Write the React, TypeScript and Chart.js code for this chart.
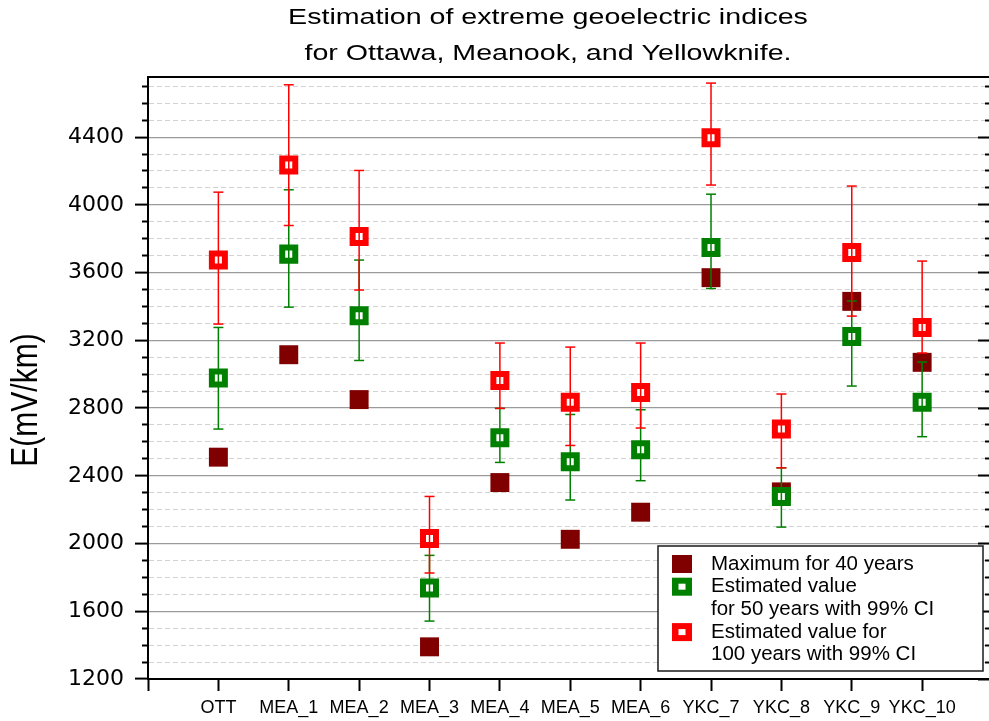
import React, { useEffect, useRef } from 'react';
import { Chart, registerables } from 'chart.js';

Chart.register(...registerables);

// ---------- data ----------
const CATEGORIES = ['OTT', 'MEA_1', 'MEA_2', 'MEA_3', 'MEA_4', 'MEA_5', 'MEA_6', 'YKC_7', 'YKC_8', 'YKC_9', 'YKC_10'];
const MAX_40 = [2510, 3115, 2850, 1390, 2360, 2025, 2185, 3570, 2305, 3430, 3070];
const EST_50 = [2977, 3709, 3345, 1737, 2625, 2483, 2554, 3748, 2278, 3223, 2835];
const EST_50_LOW = [2676, 3396, 3081, 1542, 2479, 2257, 2371, 3506, 2097, 2930, 2631];
const EST_50_HIGH = [3276, 4089, 3674, 1930, 2798, 2762, 2790, 4063, 2447, 3432, 3072];
const EST_100 = [3674, 4235, 3813, 2030, 2963, 2835, 2892, 4396, 2676, 3719, 3276];
const EST_100_LOW = [3296, 3878, 3497, 1826, 2798, 2579, 2682, 4117, 2447, 3343, 3125];
const EST_100_HIGH = [4075, 4709, 4203, 2278, 3184, 3160, 3184, 4719, 2883, 4111, 3668];

const Y_MIN = 1200;
const Y_MAX = 4755;
const Y_MINOR_STEP = 100;
const Y_MAJOR_STEP = 400;
const X_MIN = -1;
const X_MAX = 10.95;

const TITLE_LINES = ['Estimation of extreme geoelectric indices', 'for Ottawa, Meanook, and Yellowknife.'];
const Y_TITLE = 'E(mV/km)';
const LEGEND_LABELS = [
  ['Maximum for 40 years'],
  ['Estimated value', 'for 50 years with 99% CI'],
  ['Estimated value for', '100 years with 99% CI'],
];

// ---------- styles ----------
const DARK_RED = '#800000';
const GREEN = '#008000';
const RED = '#ff0000';
const LEGEND_STYLES = [
  { color: DARK_RED, hollow: false },
  { color: GREEN, hollow: true },
  { color: RED, hollow: true },
];

const markerPoints = (vals: number[]) => vals.map((y, i) => ({ x: i, y }));
const barPoints = (lo: number[], hi: number[]) =>
  lo.flatMap((l, i) => [
    { x: i, y: l },
    { x: i, y: hi[i] },
    { x: i, y: null as any },
  ]);

const isMajor = (v: number) => Math.abs(v % Y_MAJOR_STEP) < 1e-6;
const isMinor = (v: number) => Math.abs(v % Y_MINOR_STEP) < 1e-6;

const annotate = {
  id: 'annotate',
  afterDraw(chart: any) {
    const { ctx, chartArea } = chart;
    ctx.save();
    // Title
    ctx.fillStyle = '#000';
    ctx.font = '22px "Liberation Sans", Arial, sans-serif';
    ctx.textAlign = 'center';
    ctx.textBaseline = 'alphabetic';
    TITLE_LINES.forEach((line, i) => {
      ctx.save();
      ctx.translate(548, 23.5 + i * 36);
      ctx.scale(1.3, 1);
      ctx.fillText(line, 0, 0);
      ctx.restore();
    });
    // Y axis title
    ctx.save();
    ctx.translate(37, 400);
    ctx.scale(1.2, 1);
    ctx.rotate(-Math.PI / 2);
    ctx.font = '30px "Liberation Sans", Arial, sans-serif';
    ctx.textAlign = 'center';
    ctx.textBaseline = 'alphabetic';
    ctx.fillText(Y_TITLE, 0, 0);
    ctx.restore();

    // Legend
    const w = 325;
    const h = 125;
    const bx = chartArea.right - 6 - w;
    const by = chartArea.bottom - 8 - h;
    ctx.fillStyle = '#fff';
    ctx.fillRect(bx, by, w, h);
    ctx.strokeStyle = '#1a1a1a';
    ctx.lineWidth = 1.5;
    ctx.strokeRect(bx, by, w, h);
    ctx.font = '20.5px "Liberation Sans", Arial, sans-serif';
    ctx.textAlign = 'left';
    ctx.textBaseline = 'middle';
    let line = 0;
    const lh = 22.7;
    LEGEND_LABELS.forEach((lines, k) => {
      const cy = by + 18 + line * lh;
      const cx = bx + 24;
      const st = LEGEND_STYLES[k];
      ctx.fillStyle = st.color;
      ctx.fillRect(cx - 10, cy - 9, 20, 18);
      if (st.hollow) {
        ctx.fillStyle = '#fff';
        ctx.fillRect(cx - 3.5, cy - 3, 7, 6);
      }
      ctx.fillStyle = '#000';
      lines.forEach((t, j) => {
        ctx.fillText(t, bx + 53, by + 18 + (line + j) * lh);
      });
      line += lines.length;
    });
    ctx.restore();
  },
};

export default function App() {
  const ref = useRef<HTMLCanvasElement>(null);
  useEffect(() => {
    document.body.style.margin = '0';
    const yTickColor = (c: any) => (c.tick && isMinor(c.tick.value) ? '#000' : 'rgba(0,0,0,0)');
    const chart = new Chart(ref.current as HTMLCanvasElement, {
      type: 'scatter',
      data: {
        datasets: [
          {
            label: LEGEND_LABELS[0].join(' '),
            data: markerPoints(MAX_40),
            xAxisID: 'x',
            yAxisID: 'y',
            showLine: false,
            pointStyle: 'rect',
            pointRadius: 13.4,
            pointBackgroundColor: DARK_RED,
            pointBorderColor: DARK_RED,
            pointBorderWidth: 0,
            order: 5,
          },
          {
            label: LEGEND_LABELS[1].join(' '),
            data: markerPoints(EST_50),
            xAxisID: 'x',
            yAxisID: 'y',
            showLine: false,
            pointStyle: 'rect',
            pointRadius: 9.2,
            pointBackgroundColor: '#ffffff',
            pointBorderColor: GREEN,
            pointBorderWidth: 6,
            order: 4,
          },
          {
            label: LEGEND_LABELS[2].join(' '),
            data: markerPoints(EST_100),
            xAxisID: 'x',
            yAxisID: 'y',
            showLine: false,
            pointStyle: 'rect',
            pointRadius: 9.2,
            pointBackgroundColor: '#ffffff',
            pointBorderColor: RED,
            pointBorderWidth: 6,
            order: 3,
          },
          {
            label: '50 years 99% CI',
            data: barPoints(EST_50_LOW, EST_50_HIGH),
            xAxisID: 'x',
            yAxisID: 'y',
            showLine: true,
            spanGaps: false,
            borderColor: GREEN,
            borderWidth: 1.5,
            pointStyle: 'line',
            pointRadius: 5,
            pointBorderColor: GREEN,
            pointBorderWidth: 1.5,
            order: 2,
          },
          {
            label: '100 years 99% CI',
            data: barPoints(EST_100_LOW, EST_100_HIGH),
            xAxisID: 'x',
            yAxisID: 'y',
            showLine: true,
            spanGaps: false,
            borderColor: RED,
            borderWidth: 1.5,
            pointStyle: 'line',
            pointRadius: 5,
            pointBorderColor: RED,
            pointBorderWidth: 1.5,
            order: 1,
          },
        ] as any,
      },
      options: {
        responsive: false,
        maintainAspectRatio: false,
        animation: false,
        events: [],
        layout: { padding: 0, autoPadding: false },
        plugins: {
          legend: { display: false },
          tooltip: { enabled: false },
          title: { display: false },
        },
        scales: {
          y: {
            type: 'linear',
            position: 'left',
            min: Y_MIN,
            max: Y_MAX,
            afterFit: (s: any) => {
              s.width = 148;
            },
            ticks: {
              stepSize: Y_MINOR_STEP,
              autoSkip: false,
              includeBounds: false,
              padding: 11,
              color: '#000',
              font: { family: '"DejaVu Sans", sans-serif', size: 22 },
              callback: (v: any) => (isMajor(Number(v)) ? String(v) : ''),
            },
            grid: {
              color: (c: any) =>
                !c.tick || !isMinor(c.tick.value)
                  ? 'rgba(0,0,0,0)'
                  : isMajor(c.tick.value)
                  ? '#9a9a9a'
                  : '#d2d2d2',
              lineWidth: (c: any) => (c.tick && isMajor(c.tick.value) ? 1.2 : 1),
              tickLength: 13,
              tickWidth: 2,
              tickColor: yTickColor,
              tickBorderDash: (c: any) => (c.tick && isMajor(c.tick.value) ? [] : [0, 7, 6, 100]),
            },
            border: {
              display: true,
              color: '#000',
              width: 2,
              dash: (c: any) => (c.tick && !isMajor(c.tick.value) ? [5, 3] : []),
            },
          },
          yRight: {
            type: 'linear',
            position: 'right',
            min: Y_MIN,
            max: Y_MAX,
            afterFit: (s: any) => {
              s.width = 0;
            },
            ticks: { display: false, stepSize: Y_MINOR_STEP, autoSkip: false, includeBounds: false },
            grid: {
              drawOnChartArea: false,
              drawTicks: true,
              tickLength: -11,
              tickWidth: 2,
              tickColor: yTickColor,
              tickBorderDash: (c: any) => (c.tick && isMajor(c.tick.value) ? [] : [4, 100]),
              z: 1,
            },
            border: { display: false },
          },
          x: {
            type: 'linear',
            position: 'bottom',
            min: X_MIN,
            max: X_MAX,
            afterFit: (s: any) => {
              s.height = 42;
            },
            ticks: {
              stepSize: 1,
              autoSkip: false,
              includeBounds: false,
              maxRotation: 0,
              minRotation: 0,
              padding: 6,
              color: '#000',
              font: { family: '"Liberation Sans", Arial, sans-serif', size: 18 },
              callback: (v: any) => CATEGORIES[Number(v)] ?? '',
            },
            grid: {
              drawOnChartArea: false,
              tickLength: 12,
              tickWidth: 2,
              tickColor: '#000',
            },
            border: { display: true, color: '#000', width: 2 },
          },
          xTop: {
            type: 'linear',
            position: 'top',
            min: X_MIN,
            max: X_MAX,
            afterFit: (s: any) => {
              s.height = 77;
            },
            ticks: { display: false },
            grid: { display: false, drawTicks: false },
            border: { display: true, color: '#000', width: 2 },
          },
        } as any,
      },
      plugins: [annotate],
    });
    return () => chart.destroy();
  }, []);
  return (
    <canvas
      ref={ref}
      width={989}
      height={721}
      style={{ display: 'block', width: 989, height: 721 }}
    />
  );
}
